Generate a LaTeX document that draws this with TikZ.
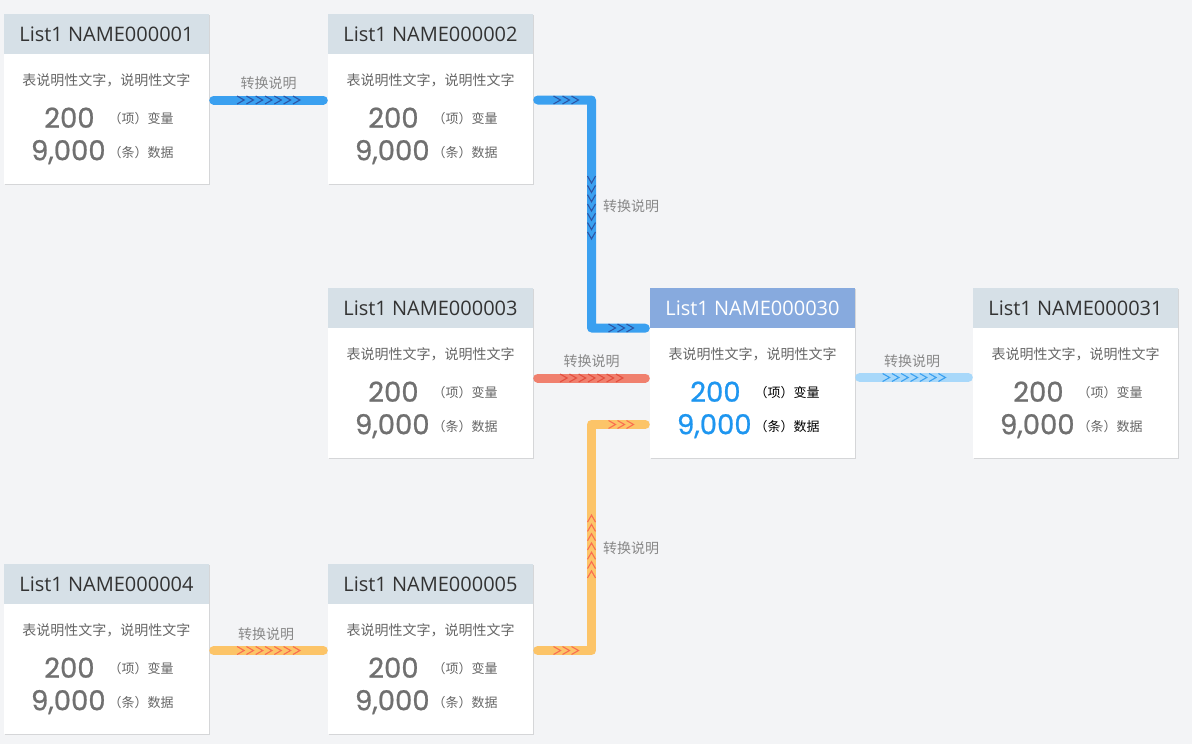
\documentclass[tikz,border=0pt]{standalone}
\usepackage{fontspec}
\setmainfont{Open Sans}
\newfontfamily\cjk{Noto Sans CJK SC}
\newfontfamily\numfont{Poppins}[FakeBold=0.8]
\usetikzlibrary{calc,shadows}

\definecolor{pagebg}{RGB}{243,244,246}
\definecolor{headgray}{RGB}{214,224,231}
\definecolor{headblue}{RGB}{135,170,222}
\definecolor{textdark}{RGB}{51,51,51}
\definecolor{textmid}{RGB}{102,102,102}
\definecolor{textnum}{RGB}{112,112,112}
\definecolor{textlabel}{RGB}{136,136,136}
\definecolor{numblue}{RGB}{30,150,240}
\definecolor{flowblue}{RGB}{58,160,240}
\definecolor{chevblue}{RGB}{45,85,165}
\definecolor{flowred}{RGB}{240,128,110}
\definecolor{chevred}{RGB}{228,78,62}
\definecolor{flowsky}{RGB}{168,216,250}
\definecolor{chevsky}{RGB}{58,160,240}
\definecolor{floworange}{RGB}{252,196,104}
\definecolor{chevorange}{RGB}{250,110,80}

\begin{document}
\begin{tikzpicture}[x=1pt, y=-1pt,
  card/.style={fill=white, minimum width=205, minimum height=170, inner sep=0,
    drop shadow={shadow xshift=0.6pt, shadow yshift=-1.4pt, opacity=0.12, fill=black}},
  head/.style={anchor=north, fill=headgray, minimum width=205, minimum height=40,
    inner sep=0, text=textdark, font=\fontsize{20}{24}\selectfont},
  head hl/.style={head, fill=headblue, text=white},
  desc/.style={inner sep=0, text=textmid, font=\cjk\fontsize{14}{16}\selectfont},
  num/.style={anchor=base east, inner sep=0, text=textnum, font=\numfont\fontsize{27.5}{30}\selectfont},
  num hl/.style={num, text=numblue},
  unit/.style={anchor=east, inner sep=0, text=textmid, font=\cjk\fontsize{13}{15}\selectfont},
  unit hl/.style={unit, text=black},
  flowlabel/.style={inner sep=0, text=textlabel, font=\cjk\fontsize{14}{16}\selectfont},
  flow/.style={line width=9pt, line cap=round, line join=round,
    shorten <=4.5pt, shorten >=4.5pt},
  chev right/.pic={\draw[line width=1.1pt] (-3.5,-4) -- (3.5,0) -- (-3.5,4);},
  chev down/.pic={\draw[line width=1.1pt] (-4,-3.5) -- (0,3.5) -- (4,-3.5);},
  chev up/.pic={\draw[line width=1.1pt] (-4,3.5) -- (0,-3.5) -- (4,3.5);}
]
  % page
  \fill[pagebg] (0,0) rectangle (1192,744);
  \useasboundingbox (0,0) rectangle (1192,744);

  % connectors go under the cards
  \coordinate (c2b) at (591.5,328);
  \coordinate (c5b) at (591.5,424.5);

  \node[card] (n1) at (106.5,99) {};
  \node[card] (n2) at (430.5,99) {};
  \node[card] (n3) at (430.5,373) {};
  \node[card] (n30) at (752.5,373) {};
  \node[card] (n31) at (1075.5,373) {};
  \node[card] (n4) at (106.5,649) {};
  \node[card] (n5) at (430.5,649) {};
  \node[head hl] (n30h) at (n30.north) {List1 NAME000030};

  % n1 -> n2
  \draw[flow, flowblue] ([yshift=-1]n1.east) -- ([yshift=-1]n2.west);
  \foreach \i in {-3,...,3}
    \pic[color=chevblue] at (268.5+\i*9.3,100) {chev right};
  \node[flowlabel] (l12) at (268.5,83) {转换说明};

  % n2 -> n30, elbow down
  \draw[flow, flowblue] ([yshift=-1]n2.east) -| (c2b) -- (n30h.south west);
  \foreach \i in {-1,0,1} {
    \pic[color=chevblue] at (566+\i*9,100) {chev right};
    \pic[color=chevblue] at (621+\i*9,328) {chev right};
  }
  \foreach \i in {-3,...,3}
    \pic[color=chevblue] at (591.5,207.5+\i*9.3) {chev down};
  \node[flowlabel, anchor=west] (l230) at (603,206) {转换说明};

  % n3 -> n30
  \draw[flow, flowred] ([yshift=-5]n3.east) -- ([yshift=-5]n30.west);
  \foreach \i in {-3,...,3}
    \pic[color=chevred] at (591.5+\i*9.3,378) {chev right};
  \node[flowlabel] (l330) at (591.5,361) {转换说明};

  % n30 -> n31
  \draw[flow, flowsky] ([yshift=-4.5]n30.east) -- ([yshift=-4.5]n31.west);
  \foreach \i in {-3,...,3}
    \pic[color=chevsky] at (914+\i*9.3,377.5) {chev right};
  \node[flowlabel] (l3031) at (912,361) {转换说明};

  % n4 -> n5
  \draw[flow, floworange] ([yshift=-1.5]n4.east) -- ([yshift=-1.5]n5.west);
  \foreach \i in {-3,...,3}
    \pic[color=chevorange] at (268.5+\i*9.3,650.5) {chev right};
  \node[flowlabel] (l45) at (266,634) {转换说明};

  % n5 -> n30, elbow up
  \draw[flow, floworange] ([yshift=-1.5]n5.east) -| (c5b) -- ([yshift=-51.5]n30.west);
  \foreach \i in {-1,0,1} {
    \pic[color=chevorange] at (566+\i*9,650.5) {chev right};
    \pic[color=chevorange] at (621+\i*9,424.5) {chev right};
  }
  \foreach \i in {-3,...,3}
    \pic[color=chevorange] at (591.5,546.5+\i*9.3) {chev up};
  \node[flowlabel, anchor=west] (l530) at (603,548) {转换说明};

  % card contents
  \foreach \nm/\id in {n1/000001, n2/000002, n3/000003, n31/000031, n4/000004, n5/000005} {
    \node[head] (\nm h) at (\nm.north) {List1 NAME\id};
    \node[desc] (\nm d) at ([yshift=-67]\nm.north) {表说明性文字，说明性文字};
    \node[num] (\nm a) at ([xshift=91,yshift=-114]\nm.north west) {200};
    \node[unit] (\nm b) at ([xshift=170,yshift=-105]\nm.north west) {（项）变量};
    \node[num] (\nm c) at ([xshift=102,yshift=-146.5]\nm.north west) {9,000};
    \node[unit] (\nm e) at ([xshift=170,yshift=-139]\nm.north west) {（条）数据};
  }

  % selected card
  \node[desc] (n30d) at ([yshift=-67]n30.north) {表说明性文字，说明性文字};
  \node[num hl] (n30a) at ([xshift=91,yshift=-114]n30.north west) {200};
  \node[unit hl] (n30b) at ([xshift=170,yshift=-105]n30.north west) {（项）变量};
  \node[num hl] (n30c) at ([xshift=102,yshift=-146.5]n30.north west) {9,000};
  \node[unit hl] (n30e) at ([xshift=170,yshift=-139]n30.north west) {（条）数据};
\end{tikzpicture}
\end{document}
